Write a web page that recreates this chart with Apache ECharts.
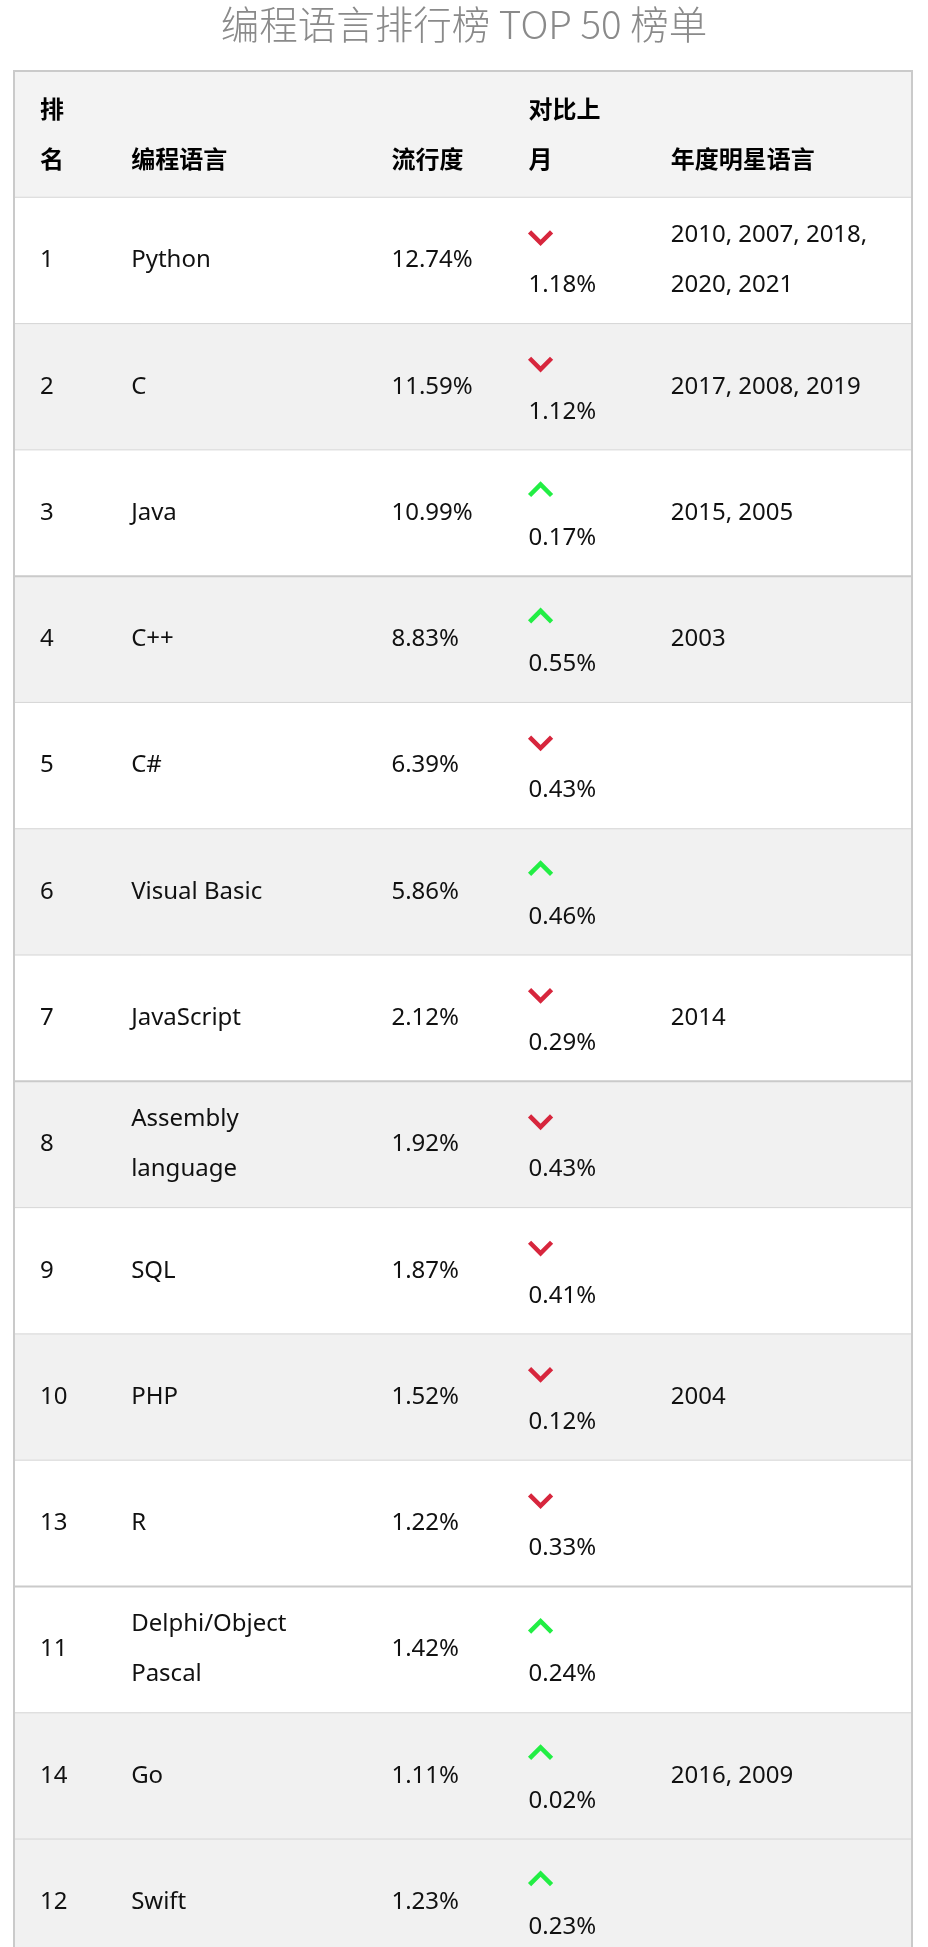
<!DOCTYPE html>
<html>
<head>
<meta charset="utf-8">
<script src="https://cdn.jsdelivr.net/npm/echarts@6/dist/echarts.min.js"></script>
<style>html,body{margin:0;padding:0;background:#fff;}#main{width:928px;height:1947px;}</style>
</head>
<body>
<div id="main"></div>
<script>
// ---- data ----
const titleText = '编程语言排行榜 TOP 50 榜单';
const headers = ['排名', '编程语言', '流行度', '对比上月', '年度明星语言'];
const ranks = [1, 2, 3, 4, 5, 6, 7, 8, 9, 10, 13, 11, 14, 12];
const languages = ['Python', 'C', 'Java', 'C++', 'C#', 'Visual Basic', 'JavaScript', 'Assembly language', 'SQL', 'PHP', 'R', 'Delphi/Object Pascal', 'Go', 'Swift'];
const popularity = [12.74, 11.59, 10.99, 8.83, 6.39, 5.86, 2.12, 1.92, 1.87, 1.52, 1.22, 1.42, 1.11, 1.23];
const monthChange = [-1.18, -1.12, 0.17, 0.55, -0.43, 0.46, -0.29, -0.43, -0.41, -0.12, -0.33, 0.24, 0.02, 0.23];
const starYears = ['2010, 2007, 2018, 2020, 2021', '2017, 2008, 2019', '2015, 2005', '2003', '', '', '2014', '', '', '2004', '', '', '2016, 2009', ''];

// ---- layout / style ----
const TABLE_W = 899;
const TABLE_TOP = 71;
const ROW_H = 126.29;
const CHART_H = 1947;
const COL_TEXT_X = [27, 118, 378, 515, 657];
const COL_TEXT_W = [40, 210, 120, 88, 238];
const LINE_H = 50;
const FONT_BODY = "'Noto Sans', 'Noto Sans CJK SC', sans-serif";
const FONT_HEAD = "'Noto Sans CJK SC', 'Noto Sans', sans-serif";
const RED = '#d7263d', GREEN = '#22ee44';

// word wrapping (spaces stay at line ends, CJK chars break anywhere)
const measureCtx = document.createElement('canvas').getContext('2d');
function wrapText(text, font, maxW) {
  measureCtx.font = font;
  const tokens = text.match(/[\u3000-\u9fff]|[^\s\u3000-\u9fff]+\s*|\s+/g) || [];
  const lines = [];
  let cur = '';
  tokens.forEach(tok => {
    const trial = cur + tok;
    if (cur && measureCtx.measureText(trial.replace(/\s+$/, '')).width > maxW) {
      lines.push(cur.replace(/\s+$/, ''));
      cur = tok;
    } else {
      cur = trial;
    }
  });
  if (cur) lines.push(cur.replace(/\s+$/, ''));
  return lines.join('\n');
}

const rowCount = ranks.length + 1;
const seriesData = [];
for (let i = 0; i < rowCount; i++) seriesData.push([0, i]);

function renderItem(params, api) {
  const i = params.dataIndex;
  const p0 = api.coord([0, i]);
  const p1 = api.coord([TABLE_W, i]);
  const h = Math.abs(api.coord([0, i + 1])[1] - p0[1]);
  const cy = p0[1];
  const top = cy - h / 2, bottom = cy + h / 2;
  const left = p0[0], right = p1[0];
  const colX = COL_TEXT_X.map(v => api.coord([v, i])[0]);
  const children = [];
  let bg;
  if (i === 0) bg = '#f3f3f3';
  else bg = (ranks[i - 1] % 2 === 0) ? '#f1f1f1' : '#ffffff';
  children.push({type: 'rect', shape: {x: left, y: top, width: right - left, height: h}, style: {fill: bg}});
  const thick = (i % 4 === 0);
  children.push({type: 'line', shape: {x1: left, y1: top, x2: right, y2: top},
    style: {stroke: thick ? '#cacaca' : '#d6d6d6', lineWidth: thick ? 2 : 1}});
  children.push({type: 'line', shape: {x1: left + 1, y1: top - 1, x2: left + 1, y2: bottom + 1}, style: {stroke: '#cacaca', lineWidth: 2}});
  children.push({type: 'line', shape: {x1: right - 1, y1: top - 1, x2: right - 1, y2: bottom + 1}, style: {stroke: '#cacaca', lineWidth: 2}});

  if (i === 0) {
    headers.forEach((t, k) => {
      children.push({type: 'text', x: colX[k], y: cy + LINE_H, style: {
        text: wrapText(t, 'bold 24px ' + FONT_HEAD, COL_TEXT_W[k]),
        fill: '#000', fontWeight: 'bold', fontSize: 24, fontFamily: FONT_HEAD,
        lineHeight: LINE_H, align: 'left', verticalAlign: 'bottom'}});
    });
  } else {
    const r = i - 1;
    const cells = [String(ranks[r]), languages[r], popularity[r].toFixed(2) + '%', null, starYears[r]];
    cells.forEach((t, k) => {
      if (t === null || t === '') return;
      children.push({type: 'text', x: colX[k], y: cy, style: {
        text: wrapText(t, '24px ' + FONT_BODY, COL_TEXT_W[k]),
        fill: '#111', fontSize: 24, fontFamily: FONT_BODY,
        lineHeight: LINE_H, align: 'left', verticalAlign: 'middle'}});
    });
    const v = monthChange[r];
    const ax = colX[3] + 1, ay = cy - LINE_H / 2 + 2;
    const up = v >= 0;
    const pts = up
      ? [[ax, ay + 5.5], [ax + 11, ay - 5.5], [ax + 22, ay + 5.5]]
      : [[ax, ay - 5.5], [ax + 11, ay + 5.5], [ax + 22, ay - 5.5]];
    children.push({type: 'polyline', shape: {points: pts}, style: {stroke: up ? GREEN : RED, lineWidth: 4.5, fill: null, lineJoin: 'miter', lineCap: 'butt'}});
    children.push({type: 'text', x: colX[3], y: cy + LINE_H / 2, style: {
      text: Math.abs(v).toFixed(2) + '%', fill: '#111', fontSize: 24, fontFamily: FONT_BODY,
      align: 'left', verticalAlign: 'middle'}});
  }
  return {type: 'group', children: children};
}

const chart = echarts.init(document.getElementById('main'), null, {renderer: 'canvas'});
chart.setOption({
  animation: false,
  backgroundColor: '#ffffff',
  title: {
    text: titleText, left: 'center', top: 0,
    textStyle: {fontSize: 38.5, color: '#8a8a8a', fontWeight: 300, fontFamily: FONT_HEAD}
  },
  grid: {left: 13, right: 15, top: TABLE_TOP, bottom: 0},
  xAxis: {type: 'value', min: 0, max: TABLE_W, show: false},
  yAxis: {type: 'value', inverse: true, min: -0.5, max: -0.5 + (CHART_H - TABLE_TOP) / ROW_H, show: false},
  series: [{
    type: 'custom', renderItem: renderItem, data: seriesData, clip: false,
    encode: {x: 0, y: 1}
  }]
});
</script>
</body>
</html>
